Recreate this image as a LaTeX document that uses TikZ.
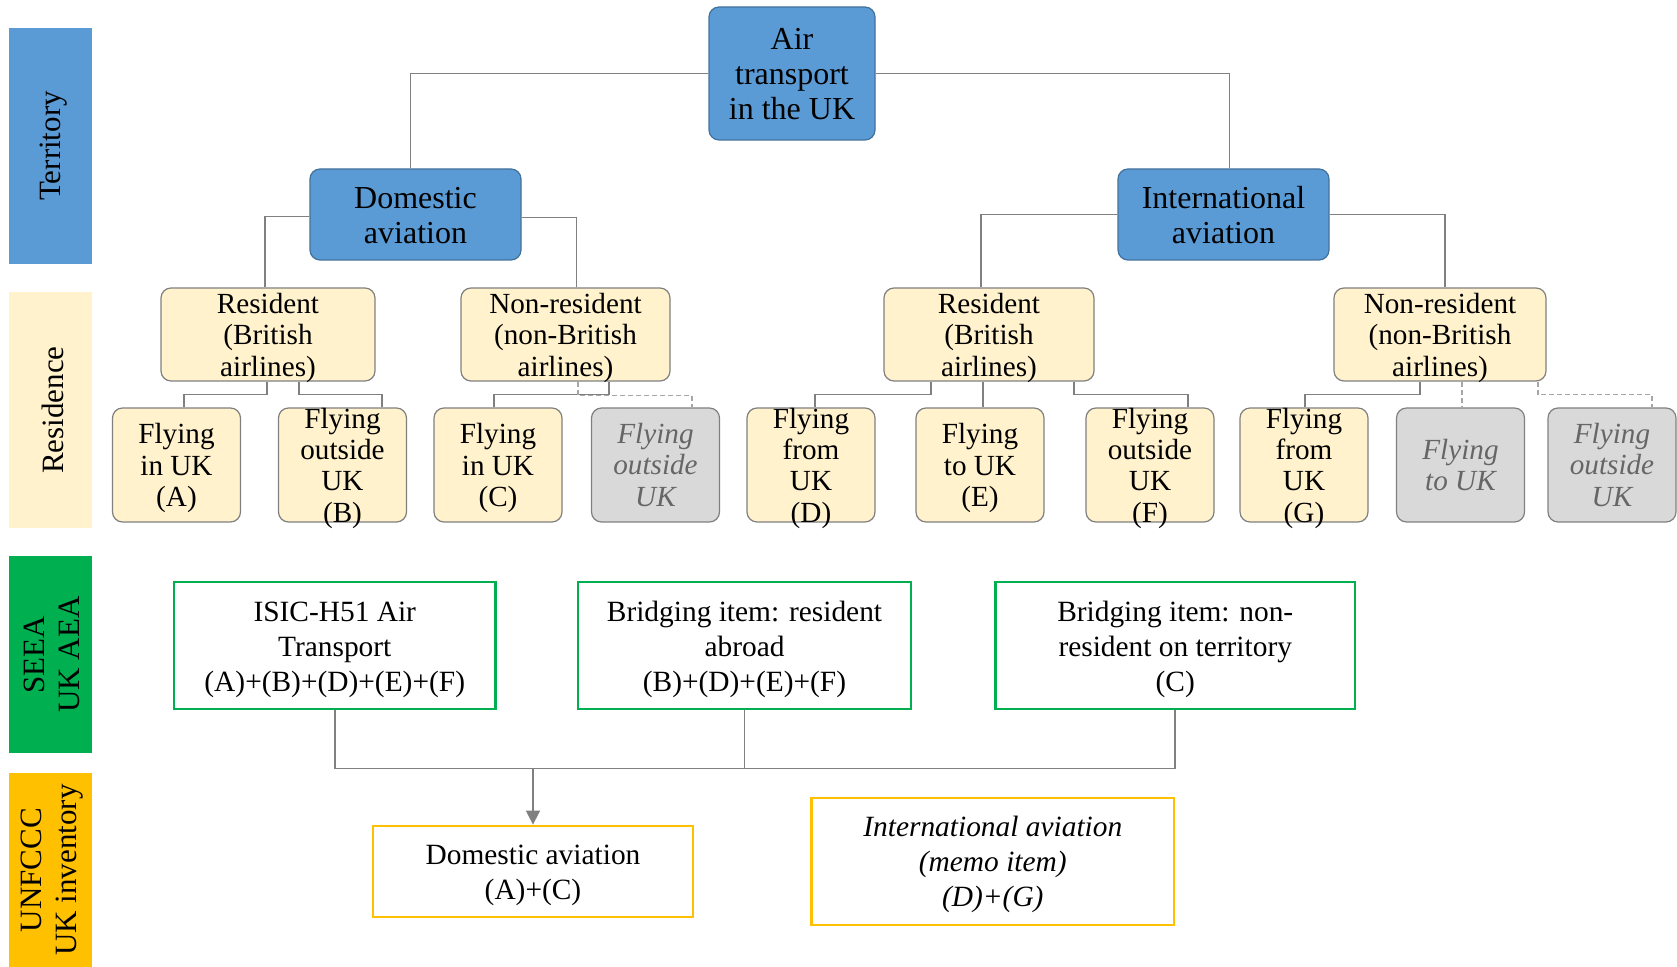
\documentclass[tikz,border=0pt]{standalone}
\usepackage{fontspec}
\setmainfont{Liberation Serif}
\usetikzlibrary{arrows.meta,calc}
\definecolor{tblue}{HTML}{5B9BD5}
\definecolor{tblueb}{HTML}{41719C}
\definecolor{ryel}{HTML}{FFF2CC}
\definecolor{sgreen}{HTML}{00B050}
\definecolor{uyel}{HTML}{FFC000}
\definecolor{lgrey}{HTML}{D9D9D9}
\definecolor{cgrey}{HTML}{808080}
\definecolor{dgrey}{HTML}{A6A6A6}
\definecolor{tgrey}{HTML}{666666}
\tikzset{
  bandtext/.style={rotate=90, align=center, inner sep=0pt, font=\fontsize{15.5}{17.5}\selectfont},
  topbox/.style={draw=tblueb, fill=tblue, rounded corners=5pt, line width=0.6pt, inner sep=0pt},
  resbox/.style={draw=cgrey, fill=ryel, rounded corners=5pt, line width=0.6pt,
    inner sep=0pt, minimum height=46.5pt},
  kidbox/.style={draw=cgrey, fill=ryel, rounded corners=5pt, line width=0.6pt,
    inner sep=0pt, minimum width=64pt, minimum height=57pt},
  greybox/.style={kidbox, fill=lgrey},
  seeabox/.style={draw=sgreen, line width=1.4pt, inner sep=0pt, minimum height=63.5pt},
  unfbox/.style={draw=uyel, line width=1.4pt, inner sep=0pt},
  ttext/.style={align=center, inner sep=0pt, font=\fontsize{16}{17.5}\selectfont},
  rtext/.style={align=center, inner sep=0pt, font=\fontsize{14.6}{15.7}\selectfont},
  gtext/.style={rtext, text=tgrey, font=\fontsize{14.6}{15.7}\selectfont\itshape},
  btext/.style={align=center, inner sep=0pt, font=\fontsize{14.7}{17.5}\selectfont},
  bitext/.style={btext, font=\fontsize{14.7}{17.5}\selectfont\itshape},
  conn/.style={draw=cgrey, line width=0.8pt},
  dconn/.style={draw=dgrey, line width=0.7pt, dash pattern=on 2.5pt off 1.5pt},
  arrowconn/.style={conn, -{Triangle[length=7pt,width=7pt]}}
}
\newcommand{\boxwithtext}[6]{%
  \node[#1] (#2) at (#3) {};
  \node[#4] (#2t) at ([yshift=#5]#2.center) {#6};}
\begin{document}
\begin{tikzpicture}[x=0.5pt,y=-0.5pt]
\useasboundingbox (0,0) rectangle (1677,967);
% side bands
\fill[tblue] (9,28) rectangle (92,264);
\fill[ryel] (9,292) rectangle (92,528);
\fill[sgreen] (9,556) rectangle (92,753);
\fill[uyel] (9,773) rectangle (92,967);
\node[bandtext] (lterr) at (54,146) {Territory};
\node[bandtext] (lres) at (53,410) {Residence};
\node[bandtext] (lseea) at (52,654.5) {SEEA\\UK AEA};
\node[bandtext] (lunf) at (52,870) {UNFCCC\\UK inventory};

% top level
\boxwithtext{topbox, minimum width=83pt, minimum height=66.5pt}{air}{792,73.5}{ttext}{-0.5pt}{Air\\transport\\in the UK}
\boxwithtext{topbox, minimum width=105.5pt, minimum height=45.5pt}{dom}{415.5,214.5}{ttext}{-0.5pt}{Domestic\\aviation}
\boxwithtext{topbox, minimum width=105.5pt, minimum height=45.5pt}{intl}{1223.5,214.5}{ttext}{-0.5pt}{International\\aviation}

% residence level
\boxwithtext{resbox, minimum width=107pt}{res1}{268,334.5}{rtext}{-1.6pt}{Resident\\(British\\airlines)}
\boxwithtext{resbox, minimum width=104.5pt}{nres1}{565.5,334.5}{rtext}{-1.6pt}{Non-resident\\(non-British\\airlines)}
\boxwithtext{resbox, minimum width=105pt}{res2}{989,334.5}{rtext}{-1.6pt}{Resident\\(British\\airlines)}
\boxwithtext{resbox, minimum width=106pt}{nres2}{1440,334.5}{rtext}{-1.6pt}{Non-resident\\(non-British\\airlines)}

% children
\boxwithtext{kidbox}{kA}{176.5,465}{rtext}{-1.6pt}{Flying\\in UK\\(A)}
\boxwithtext{kidbox}{kB}{342.5,465}{rtext}{-1.6pt}{Flying\\outside\\UK\\(B)}
\boxwithtext{kidbox}{kC}{498,465}{rtext}{-1.6pt}{Flying\\in UK\\(C)}
\boxwithtext{greybox}{g1}{655.5,465}{gtext}{0pt}{Flying\\outside\\UK}
\boxwithtext{kidbox}{kD}{811,465}{rtext}{-1.6pt}{Flying\\from\\UK\\(D)}
\boxwithtext{kidbox}{kE}{980,465}{rtext}{-1.6pt}{Flying\\to UK\\(E)}
\boxwithtext{kidbox}{kF}{1150,465}{rtext}{-1.6pt}{Flying\\outside\\UK\\(F)}
\boxwithtext{kidbox}{kG}{1304,465}{rtext}{-1.6pt}{Flying\\from\\UK\\(G)}
\boxwithtext{greybox}{g2}{1460.5,465}{gtext}{0pt}{Flying\\to UK}
\boxwithtext{greybox}{g3}{1612,465}{gtext}{0pt}{Flying\\outside\\UK}

% SEEA boxes
\boxwithtext{seeabox, minimum width=160.75pt}{isic}{334.75,645.5}{btext}{-2pt}{ISIC-H51 Air\\Transport\\(A)+(B)+(D)+(E)+(F)}
\boxwithtext{seeabox, minimum width=166.5pt}{br1}{744.5,645.5}{btext}{-2pt}{Bridging item: resident\\abroad\\(B)+(D)+(E)+(F)}
\boxwithtext{seeabox, minimum width=179.75pt}{br2}{1175.25,645.5}{btext}{-2pt}{Bridging item: non-\\resident on territory\\(C)}

% UNFCCC boxes
\boxwithtext{unfbox, minimum width=160pt, minimum height=45.5pt}{domu}{533,871.5}{btext}{-2pt}{Domestic aviation\\(A)+(C)}
\boxwithtext{unfbox, minimum width=181.2pt, minimum height=63.5pt}{intu}{992.8,861.5}{bitext}{-1.6pt}{International aviation\\(memo item)\\(D)+(G)}

% connectors top
\draw[conn] (air.west) -| ([xshift=-2.5pt]dom.north);
\draw[conn] (air.east) -| ([xshift=3pt]intl.north);
\draw[conn] ([yshift=-1pt]dom.west) -| ([xshift=-1.5pt]res1.north);
\draw[conn] ([yshift=-1.5pt]dom.east) -| ([xshift=5.5pt]nres1.north);
\draw[conn] (intl.west) -| ([xshift=-4pt]res2.north);
\draw[conn] (intl.east) -| ([xshift=2.5pt]nres2.north);

% connectors to children
\draw[conn] ([xshift=-0.5pt]res1.south) -- ++(0,13) -| ([xshift=3.75pt]kA.north);
\draw[conn] ([xshift=15.5pt]res1.south) -- ++(0,13) -| ([xshift=19.75pt]kB.north);
\draw[conn] ([xshift=21.75pt]nres1.south) -- ++(0,13) -| ([xshift=-2pt]kC.north);
\draw[dconn] ([xshift=6.25pt]nres1.south) -- ++(0,14) -| ([xshift=18.25pt]g1.north);
\draw[conn] ([xshift=-29.15pt]res2.south) -- ++(0,13) -| ([xshift=2pt]kD.north);
\draw[conn, line width=1.3pt] ([xshift=-3pt]res2.south) -- ([xshift=-3pt]res2.south |- kE.north);
\draw[conn] ([xshift=42.5pt]res2.south) -- ++(0,13) -| ([xshift=19pt]kF.north);
\draw[conn] ([xshift=-10pt]nres2.south) -- ++(0,13) -| ([xshift=0.5pt]kG.north);
\draw[dconn] ([xshift=11pt]nres2.south) -- ([xshift=11pt]nres2.south |- g2.north);
\draw[dconn] ([xshift=49pt]nres2.south) -- ++(0,13) -| ([xshift=20pt]g3.north);

% bottom connectors
\coordinate (bar) at ($(isic.south)+(0,58)$);
\draw[conn] (isic.south) -- (bar) -| (br2.south);
\draw[conn] (br1.south) -- (br1.south |- bar);
\draw[arrowconn] (bar -| domu.north) -- (domu.north);
\end{tikzpicture}
\end{document}
